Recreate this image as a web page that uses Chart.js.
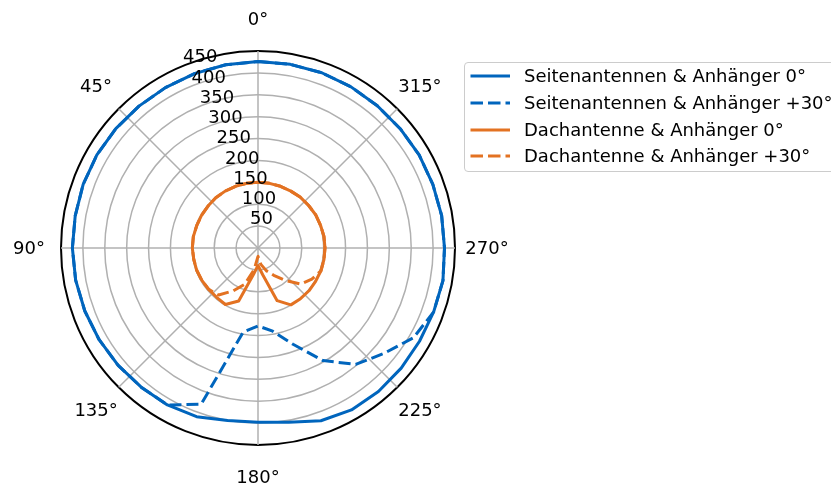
<!DOCTYPE html>
<html>
<head>
<meta charset="utf-8">
<script src="https://cdn.jsdelivr.net/npm/chart.js@4/dist/chart.umd.min.js"></script>
<style>
  html, body { margin: 0; padding: 0; background: #fff; overflow: hidden; }
  #wrap { position: relative; width: 831px; height: 486px; }
  #polarChart { position: absolute; left: 0; top: 0; }
  #legendBox {
    position: absolute; left: 464px; top: 62px; width: 380px; height: 110px;
    border: 1px solid #cccccc; border-radius: 4px; box-sizing: border-box; background: #fff;
  }
  .legendRow {
    position: absolute; left: 470px; height: 27px; line-height: 27px;
    font-family: "DejaVu Sans", sans-serif; font-size: 18px; color: #000; white-space: nowrap;
  }
  .legendRow svg { position: absolute; left: 0; top: 12px; }
  .legendRow span { position: absolute; left: 54px; top: 0; }
</style>
</head>
<body>
<div id="wrap">
  <canvas id="polarChart" width="831" height="486"></canvas>
  <div id="legendBox"></div>
</div>
<script>
// measurement angles in degrees (counter-clockwise, 0° at the top)
const angles = [0, 10, 20, 30, 40, 50, 60, 70, 80, 90, 100, 110, 120, 130, 140, 150, 160, 170,
                180, 190, 200, 210, 220, 230, 240, 250, 260, 270, 280, 290, 300, 310, 320, 330, 340, 350];

const seiten0 = [426, 425, 424, 423, 423, 424, 425, 425, 424, 424, 423, 421, 419, 417, 415, 414, 410, 400,
                 398, 404, 420, 427, 428, 427, 426, 427, 429, 426, 426, 425, 425, 424, 424, 425, 426, 426];
const seiten30 = [426, 425, 424, 423, 423, 424, 425, 425, 424, 424, 423, 421, 419, 417, 415, 414, 380, 195,
                  178, 193, 234, 297, 347, 375, 410, 427, 429, 426, 426, 425, 425, 424, 424, 425, 426, 426];
const dach0 = [150, 150, 150, 150, 150, 149, 149, 149, 150, 150, 149, 149, 148, 147, 147, 149, 129, 62,
               40, 62, 128, 150, 151, 152, 152, 153, 153, 153, 153, 152, 152, 151, 151, 150, 150, 150];
const dach30 = [150, 150, 150, 150, 150, 149, 149, 149, 150, 150, 149, 149, 148, 147, 140, 113, 88, 50,
                19, 38, 55, 72, 97, 128, 142, 153, 153, 153, 153, 152, 152, 151, 151, 150, 150, 150];

const seriesNames = ['Seitenantennen & Anhänger 0°', 'Seitenantennen & Anhänger +30°',
                     'Dachantenne & Anhänger 0°', 'Dachantenne & Anhänger +30°'];
const seriesValues = [seiten0, seiten30, dach0, dach30];
const seriesColors = ['#0065BD', '#0065BD', '#E37222', '#E37222'];
const seriesDashed = [false, true, false, true];

const rTicks = [50, 100, 150, 200, 250, 300, 350, 400, 450];
const thetaTicks = [0, 45, 90, 135, 180, 225, 270, 315];
const rMax = 450;
const rLabelAngle = 22.5;

// radar spokes every 5°, listed clockwise so angles grow counter-clockwise on screen
const step = 5;
const spokes = [];
for (let k = 0; k < 360 / step; k++) spokes.push((360 - k * step) % 360);

function spokeIndex(deg) {
  return ((360 - deg) % 360) / step;
}

function toRadar(values) {
  return spokes.map(deg => {
    const i = angles.indexOf(deg);
    return i >= 0 ? values[i] : null;
  });
}

const FONT = '18px "DejaVu Sans"';

const polarLabels = {
  id: 'polarLabels',
  afterDatasetsDraw(chart) {
    const scale = chart.scales.r;
    const ctx = chart.ctx;
    ctx.save();
    ctx.font = FONT;
    ctx.fillStyle = '#000';

    ctx.textAlign = 'left';
    ctx.textBaseline = 'alphabetic';
    const ray = spokeIndex(rLabelAngle);
    rTicks.forEach(v => {
      const p = scale.getPointPositionForValue(ray, v);
      ctx.fillText(String(v), p.x + 0.5, p.y - 3.5);
    });

    ctx.textAlign = 'center';
    ctx.textBaseline = 'middle';
    thetaTicks.forEach(deg => {
      const p = scale.getPointPosition(spokeIndex(deg), scale.drawingArea + 32);
      ctx.fillText(deg + '°', p.x, p.y + 1);
    });
    ctx.restore();
  }
};

const datasets = seriesValues.map((vals, i) => ({
  label: seriesNames[i],
  data: toRadar(vals),
  borderColor: seriesColors[i],
  borderWidth: 3,
  borderDash: seriesDashed[i] ? [12, 5] : [],
  borderJoinStyle: 'round',
  fill: false,
  spanGaps: true,
  pointRadius: 0,
  tension: 0,
  order: seriesValues.length - i
}));

new Chart(document.getElementById('polarChart'), {
  type: 'radar',
  data: { labels: spokes, datasets: datasets },
  options: {
    responsive: false,
    animation: false,
    devicePixelRatio: 1,
    layout: { padding: { left: 61, top: 51, right: 375, bottom: 40 } },
    plugins: { legend: { display: false }, tooltip: { enabled: false } },
    scales: {
      r: {
        min: 0,
        max: rMax,
        ticks: { stepSize: 50, display: false },
        pointLabels: { display: false },
        grid: {
          circular: true,
          color: c => c.tick && c.tick.value === rMax ? '#000000' : '#b0b0b0',
          lineWidth: c => c.tick && c.tick.value === rMax ? 2 : 1.5
        },
        angleLines: {
          display: true,
          color: c => (spokes[c.index] % 45 === 0 ? '#b0b0b0' : 'rgba(0,0,0,0)'),
          lineWidth: c => (spokes[c.index] % 45 === 0 ? 1.5 : 0)
        }
      }
    }
  },
  plugins: [polarLabels]
});

// legend
const wrap = document.getElementById('wrap');
seriesNames.forEach((name, i) => {
  const row = document.createElement('div');
  row.className = 'legendRow';
  row.style.top = (62 + i * 26.8) + 'px';
  const dash = seriesDashed[i] ? 'stroke-dasharray="12.5 5"' : '';
  row.innerHTML = '<svg width="40" height="4"><line x1="0.5" y1="2" x2="40" y2="2" stroke="' +
    seriesColors[i] + '" stroke-width="3" ' + dash + '/></svg><span></span>';
  row.querySelector('span').textContent = name;
  wrap.appendChild(row);
});
</script>
</body>
</html>
